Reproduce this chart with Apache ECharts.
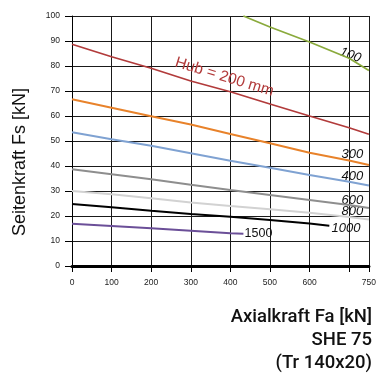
<!DOCTYPE html>
<html>
<head>
<meta charset="utf-8">
<script src="https://cdn.jsdelivr.net/npm/echarts@6/dist/echarts.min.js"></script>
<style>
  html, body { margin: 0; padding: 0; background: #fff; }
  #chart { width: 379px; height: 374px; }
</style>
</head>
<body>
<div id="chart"></div>
<script>
// Axial force positions (kN) shared by the full-length curves
const axialSteps = [0, 100, 200, 300, 400, 500, 600, 700, 750];

// Permissible side force (kN) per stroke length
const hub100X = [433, 500, 600, 700, 750];
const hub100Y = [100, 95.6, 89.6, 83.1, 78.2];
const hub200Y = [88.7, 83.7, 79.1, 74.0, 69.7, 64.8, 60.0, 55.3, 52.7];
const hub300Y = [66.7, 63.3, 59.9, 56.6, 52.8, 49.1, 45.3, 42.2, 40.4];
const hub400Y = [53.5, 50.7, 48.1, 45.1, 42.1, 39.3, 36.4, 33.7, 32.2];
const hub600Y = [38.7, 36.7, 34.7, 32.5, 30.4, 28.4, 26.4, 24.4, 23.2];
const hub800Y = [30.0, 28.7, 27.1, 25.4, 24.0, 22.7, 21.3, 19.6, 18.6];
const hub1000X = [0, 100, 200, 300, 400, 500, 600, 650];
const hub1000Y = [24.8, 23.5, 22.1, 20.8, 19.7, 18.4, 17.0, 16.1];
const hub1500X = [0, 100, 200, 300, 400, 433];
const hub1500Y = [16.9, 16.0, 15.1, 14.1, 13.1, 12.9];

// Axis tick labels that are printed
const xTickLabels = [0, 100, 200, 300, 400, 500, 600, 750];
const yTickLabels = [0, 10, 20, 30, 40, 50, 60, 70, 80, 90, 100];

const pairs = (xs, ys) => xs.map((x, i) => [x, ys[i]]);

const curves = [
  { name: '100',  color: '#8aaa3c', data: pairs(hub100X, hub100Y) },
  { name: '200',  color: '#b23b3b', data: pairs(axialSteps, hub200Y) },
  { name: '300',  color: '#e8822a', data: pairs(axialSteps, hub300Y) },
  { name: '400',  color: '#7fa2d2', data: pairs(axialSteps, hub400Y) },
  { name: '600',  color: '#8e8e8e', data: pairs(axialSteps, hub600Y) },
  { name: '800',  color: '#d2d2d2', data: pairs(axialSteps, hub800Y) },
  { name: '1000', color: '#000000', data: pairs(hub1000X, hub1000Y) },
  { name: '1500', color: '#6b4f98', data: pairs(hub1500X, hub1500Y) }
];

const chart = echarts.init(document.getElementById('chart'), null, { renderer: 'canvas' });

const gridLine = { color: '#1a1a1a', width: 1 };
const tickFont = { fontFamily: 'Liberation Sans', fontSize: 8.5, color: '#222' };

chart.setOption({
  animation: false,
  backgroundColor: '#fff',
  grid: { left: 72, top: 16, width: 300, height: 250, containLabel: false },
  xAxis: {
    type: 'value', min: 0, max: 750, interval: 100,
    axisLine: { show: true, onZero: false, lineStyle: { color: '#000', width: 3 } },
    axisTick: { show: true, length: 6, lineStyle: { color: '#000', width: 1 } },
    splitLine: { show: true, lineStyle: gridLine },
    axisLabel: Object.assign({
      margin: 12, showMaxLabel: true, showMinLabel: true, hideOverlap: false,
      formatter: v => xTickLabels.includes(v) ? String(v) : ''
    }, tickFont)
  },
  yAxis: {
    type: 'value', min: 0, max: 100, interval: 10,
    axisLine: { show: true, lineStyle: { color: '#000', width: 1 } },
    axisTick: { show: true, length: 7, lineStyle: { color: '#000', width: 1 } },
    splitLine: { show: true, lineStyle: gridLine },
    axisLabel: Object.assign({
      margin: 12,
      formatter: v => yTickLabels.includes(v) ? String(v) : ''
    }, tickFont)
  },
  series: curves.map(c => ({
    type: 'line', name: c.name, data: c.data, showSymbol: false, symbol: 'none',
    clip: true, silent: true,
    lineStyle: { color: c.color, width: 1.8 }
  }))
});

// Curve annotations, anchored in data coordinates
const annotations = [
  { text: '100', at: [703, 84.4], rot: -20, italic: true, size: 13, color: '#111' },
  { text: 'Hub = 200 mm', at: [385, 75.6], rot: -17, italic: false, size: 15.5, color: '#b23b3b' },
  { text: '300', at: [708, 44.8], rot: 0, italic: true, size: 13, color: '#111' },
  { text: '400', at: [708, 36.0], rot: 0, italic: true, size: 13, color: '#111' },
  { text: '600', at: [708, 26.4], rot: 0, italic: true, size: 13, color: '#111' },
  { text: '800', at: [708, 21.8], rot: 0, italic: true, size: 13, color: '#111' },
  { text: '1000', at: [692, 15.2], rot: 0, italic: true, size: 13, color: '#111' },
  { text: '1500', at: [471, 12.8], rot: 0, italic: false, size: 12.5, color: '#111' }
];

const graphics = annotations.map(a => {
  const p = chart.convertToPixel({ gridIndex: 0 }, a.at);
  return {
    type: 'text', x: p[0], y: p[1], rotation: a.rot * Math.PI / 180, silent: true,
    style: {
      text: a.text, fill: a.color, align: 'center', verticalAlign: 'middle',
      font: (a.italic ? 'italic ' : '') + a.size + 'px "Liberation Sans"'
    }
  };
});

// Axis titles and type designation
graphics.push({
  type: 'text', x: 20, y: 162, rotation: Math.PI / 2, silent: true,
  style: { text: 'Seitenkraft Fs [kN]', fill: '#111', align: 'center', verticalAlign: 'middle',
           font: '18px "Liberation Sans"' }
});
[['Axialkraft Fa [kN]', 317], ['SHE 75', 340], ['(Tr 140x20)', 363]].forEach(([t, y]) => {
  graphics.push({
    type: 'text', x: 372, y: y, silent: true,
    style: { text: t, fill: '#111', align: 'right', verticalAlign: 'middle',
             font: '500 18.5px Roboto' }
  });
});

chart.setOption({ graphic: graphics });
</script>
</body>
</html>
